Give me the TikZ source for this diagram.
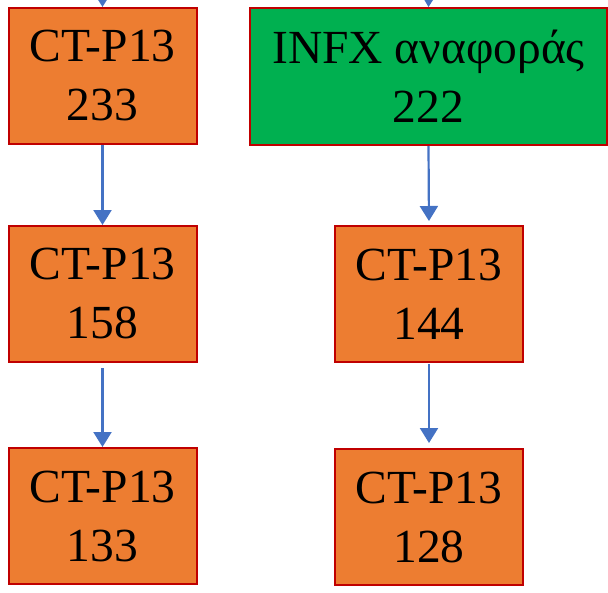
\documentclass[tikz,border=0pt]{standalone}
\usepackage{fontspec}
\setmainfont{Liberation Serif}
\usetikzlibrary{arrows.meta}
\definecolor{boxorange}{HTML}{ED7D31}
\definecolor{boxgreen}{HTML}{00B050}
\definecolor{boxedge}{HTML}{C00000}
\definecolor{linkblue}{HTML}{4472C4}
\tikzset{
  stagebox/.style={draw=boxedge, line width=2pt, fill=boxorange, inner sep=0pt,
    minimum width=188pt, minimum height=136pt, align=center,
    font=\fontsize{47.5}{59}\selectfont},
  refbox/.style={stagebox, fill=boxgreen, minimum width=357pt, minimum height=137pt},
  link/.style={draw=linkblue, line width=2.2pt,
    -{Triangle[length=15pt, width=18pt]}}
}
\begin{document}
\begin{tikzpicture}[x=1pt, y=-1pt]
  \useasboundingbox (0,0) rectangle (608,592);
  % left column
  \node[stagebox] (A) at (102.5,76) {CT-P13\\233};
  \node[stagebox] (C) at (102.5,294) {CT-P13\\158};
  \node[stagebox] (E) at (102.5,516) {CT-P13\\133};
  % right column
  \node[refbox]   (B) at (428.5,76.5) {INFX αναφοράς\\222};
  \node[stagebox] (D) at (429,294) {CT-P13\\144};
  \node[stagebox] (F) at (429,517) {CT-P13\\128};
  % incoming links from above the frame
  \coordinate (inA) at (102.5,-40);
  \coordinate (inB) at (429.5,-40);
  \draw[link] (inA) -- (A.north);
  \draw[link] (inB) -- (B.north);
  % links down each column
  \draw[link] (A.south) -- (C.north);
  \draw[link, shorten <=5pt] (C.south) -- (E.north);
  \draw[link, shorten >=4pt] (B.south) -- (D.north);
  \draw[link, shorten <=1pt, shorten >=5pt] (D.south) -- (F.north);
\end{tikzpicture}
\end{document}
